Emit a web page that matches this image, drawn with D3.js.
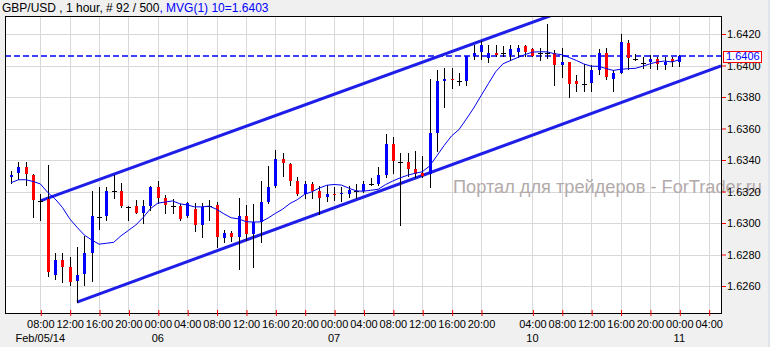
<!DOCTYPE html>
<html>
<head>
<meta charset="utf-8">
<script src="https://cdn.jsdelivr.net/npm/d3@7"></script>
<style>
  body { margin: 0; background: #f0f0f0; }
  svg { display: block; font-family: "Liberation Sans", Arial, sans-serif; }
</style>
</head>
<body>
<svg width="770" height="347"></svg>
<script>
// GBP/USD hourly bars, Feb 05 04:00 .. Feb 11 00:00 (92 bars)
const open = [
  1.63292, 1.63319, 1.63354, 1.63307, 1.63142, 1.63150, 1.62672, 1.62765, 1.62723, 1.62630,
  1.62672, 1.62811, 1.63040, 1.63044, 1.63201, 1.63201, 1.63103, 1.63108, 1.63065, 1.63112,
  1.63230, 1.63159, 1.63108, 1.63108, 1.63044, 1.63091, 1.62989, 1.63110, 1.63112, 1.62909,
  1.62935, 1.62909, 1.63044, 1.62930, 1.63006, 1.63133, 1.63230, 1.63404, 1.63375, 1.63265,
  1.63184, 1.63248, 1.63205, 1.63163, 1.63186, 1.63184, 1.63184, 1.63203, 1.63206, 1.63248,
  1.63248, 1.63307, 1.63502, 1.63385, 1.63387, 1.63345, 1.63319, 1.63311, 1.63573, 1.63900,
  1.63912, 1.63900, 1.63903, 1.64060, 1.64081, 1.64048, 1.64079, 1.64077, 1.64064, 1.64083,
  1.64123, 1.64103, 1.64079, 1.64078, 1.64081, 1.64006, 1.64023, 1.63903, 1.63883, 1.63886,
  1.63968, 1.64078, 1.63917, 1.63956, 1.64142, 1.64043, 1.64019, 1.64021, 1.64040, 1.64006,
  1.64040, 1.64023
];
const high = [
  1.63332, 1.63387, 1.63387, 1.63310, 1.63184, 1.63366, 1.62808, 1.62808, 1.62786, 1.62846,
  1.62917, 1.63205, 1.63230, 1.63230, 1.63307, 1.63252, 1.63108, 1.63146, 1.63146, 1.63232,
  1.63269, 1.63180, 1.63152, 1.63121, 1.63133, 1.63125, 1.63129, 1.63146, 1.63133, 1.62956,
  1.62951, 1.63159, 1.63112, 1.63121, 1.63265, 1.63362, 1.63464, 1.63446, 1.63379, 1.63294,
  1.63265, 1.63260, 1.63235, 1.63239, 1.63230, 1.63227, 1.63235, 1.63248, 1.63269, 1.63283,
  1.63357, 1.63565, 1.63548, 1.63443, 1.63443, 1.63459, 1.63425, 1.63912, 1.63971, 1.63984,
  1.63984, 1.63954, 1.64062, 1.64128, 1.64154, 1.64128, 1.64128, 1.64121, 1.64130, 1.64130,
  1.64130, 1.64108, 1.64112, 1.64262, 1.64098, 1.64110, 1.64025, 1.63938, 1.64008, 1.64004,
  1.64106, 1.64108, 1.63973, 1.64199, 1.64163, 1.64074, 1.64057, 1.64067, 1.64057, 1.64057,
  1.64057, 1.64064
];
const low = [
  1.63256, 1.63281, 1.63243, 1.63040, 1.63019, 1.62663, 1.62646, 1.62625, 1.62604, 1.62498,
  1.62604, 1.62630, 1.62964, 1.63019, 1.63159, 1.63103, 1.63019, 1.63062, 1.63002, 1.63083,
  1.63125, 1.63062, 1.63062, 1.63019, 1.63040, 1.62951, 1.62913, 1.63021, 1.62846, 1.62879,
  1.62884, 1.62706, 1.62892, 1.62723, 1.62879, 1.63129, 1.63227, 1.63298, 1.63243, 1.63180,
  1.63159, 1.63159, 1.63057, 1.63138, 1.63146, 1.63142, 1.63163, 1.63159, 1.63200, 1.63243,
  1.63243, 1.63294, 1.63319, 1.62985, 1.63298, 1.63290, 1.63294, 1.63227, 1.63459, 1.63738,
  1.63857, 1.63878, 1.63878, 1.64039, 1.64039, 1.64022, 1.64060, 1.64059, 1.64037, 1.64054,
  1.64062, 1.64058, 1.64038, 1.64049, 1.63876, 1.63927, 1.63797, 1.63835, 1.63838, 1.63835,
  1.63949, 1.63917, 1.63841, 1.63954, 1.63975, 1.64036, 1.63981, 1.63985, 1.63978, 1.63978,
  1.63998, 1.63998
];
const close = [
  1.63307, 1.63354, 1.63307, 1.63146, 1.63142, 1.62689, 1.62765, 1.62723, 1.62630, 1.62668,
  1.62808, 1.63044, 1.63040, 1.63205, 1.63201, 1.63108, 1.63103, 1.63065, 1.63108, 1.63230,
  1.63159, 1.63112, 1.63108, 1.63027, 1.63125, 1.62989, 1.63103, 1.63110, 1.62909, 1.62938,
  1.62909, 1.63044, 1.62930, 1.63006, 1.63133, 1.63227, 1.63404, 1.63379, 1.63269, 1.63184,
  1.63248, 1.63205, 1.63163, 1.63184, 1.63182, 1.63190, 1.63210, 1.63203, 1.63248, 1.63248,
  1.63307, 1.63502, 1.63392, 1.63385, 1.63345, 1.63316, 1.63303, 1.63570, 1.63903, 1.63912,
  1.63903, 1.63900, 1.64060, 1.64081, 1.64128, 1.64081, 1.64065, 1.64077, 1.64103, 1.64111,
  1.64086, 1.64060, 1.64079, 1.64078, 1.64006, 1.64023, 1.63886, 1.63886, 1.63883, 1.63970,
  1.64078, 1.63924, 1.63954, 1.64150, 1.64044, 1.64043, 1.64019, 1.64040, 1.64006, 1.64025,
  1.64023, 1.64060
];
// closes of the 9 bars before the window, needed for the 10-bar average
const prevClose = [1.63168, 1.63298, 1.63258, 1.63298, 1.63227, 1.63176, 1.63260, 1.63358, 1.63206];

const priceTicks = [1.626, 1.628, 1.630, 1.632, 1.634, 1.636, 1.638, 1.640, 1.642];
const timeTickBars = [4, 8, 12, 16, 20, 24, 28, 32, 36, 40, 44, 48, 52, 56, 60, 64, 71, 75, 79, 83, 87, 91, 95];
const timeTickLabels = ["08:00", "12:00", "16:00", "20:00", "00:00", "04:00", "08:00", "12:00", "16:00", "20:00",
  "00:00", "04:00", "08:00", "12:00", "16:00", "20:00", "04:00", "08:00", "12:00", "16:00", "20:00", "00:00", "04:00"];
const dateBars = [4, 20, 44, 71, 91];
const dateLabels = ["Feb/05/14", "06", "07", "10", "11"];
const lastPrice = 1.6406;
const maPeriod = 10;
// channel lines: [bar1, price1, bar2, price2], drawn as rays
const channelLines = [
  [4, 1.6314, 60, 1.64088],
  [9, 1.62498, 91, 1.639]
];

const svg = d3.select("svg");
const width = +svg.attr("width");
const height = +svg.attr("height");
const plotLeft = 5, plotRight = 721, plotTop = 16, plotBottom = 313;

const x = d3.scaleLinear().domain([4, 91]).range([40.3, 679.3]);
const y = d3.scaleLinear().domain([1.626, 1.642]).range([286, 34]);
const xEnd = x.invert(plotRight);

svg.append("rect").attr("width", width).attr("height", height).attr("fill", "#f0f0f0");
svg.append("rect").attr("x", 768).attr("y", 0).attr("width", 2).attr("height", height).attr("fill", "#dfe4ea");

svg.append("rect")
  .attr("x", plotLeft).attr("y", plotTop)
  .attr("width", plotRight - plotLeft).attr("height", plotBottom - plotTop)
  .attr("fill", "#fff");

svg.append("clipPath").attr("id", "plot")
  .append("rect")
  .attr("x", plotLeft).attr("y", plotTop)
  .attr("width", plotRight - plotLeft).attr("height", plotBottom - plotTop);

// grid
svg.append("g").selectAll("line")
  .data(priceTicks)
  .join("line")
  .attr("x1", plotLeft).attr("x2", plotRight)
  .attr("y1", d => Math.round(y(d)) + 0.5).attr("y2", d => Math.round(y(d)) + 0.5)
  .attr("stroke", "#d8d8d8");
svg.append("g").selectAll("line")
  .data(timeTickBars)
  .join("line")
  .attr("x1", d => Math.round(x(d)) + 0.5).attr("x2", d => Math.round(x(d)) + 0.5)
  .attr("y1", plotTop).attr("y2", plotBottom)
  .attr("stroke", "#d8d8d8");

// watermark
svg.append("text")
  .attr("x", 453).attr("y", 193)
  .attr("font-size", 18)
  .attr("textLength", 309)
  .attr("lengthAdjust", "spacingAndGlyphs")
  .attr("fill", "#b3aaaa")
  .text("Портал для трейдеров - ForTrader.ru");

const plot = svg.append("g").attr("clip-path", "url(#plot)");

// last price dashed line
plot.append("line")
  .attr("x1", plotLeft).attr("x2", plotRight)
  .attr("y1", y(lastPrice)).attr("y2", y(lastPrice))
  .attr("stroke", "#0000ff")
  .attr("stroke-width", 1.5)
  .attr("stroke-dasharray", "6,3");

// channel
plot.selectAll(".channel")
  .data(channelLines)
  .join("line")
  .attr("class", "channel")
  .attr("x1", d => x(d[0]))
  .attr("y1", d => y(d[1]))
  .attr("x2", x(xEnd))
  .attr("y2", d => y(d[1] + (d[3] - d[1]) / (d[2] - d[0]) * (xEnd - d[0])))
  .attr("stroke", "#1e1ee8")
  .attr("stroke-width", 3);

// candles
const bars = d3.range(close.length);
const cx = i => Math.round(x(i));

plot.append("g").selectAll("line")
  .data(bars)
  .join("line")
  .attr("x1", i => cx(i) + 0.5).attr("x2", i => cx(i) + 0.5)
  .attr("y1", i => Math.round(y(high[i]))).attr("y2", i => Math.round(y(low[i])) + 1)
  .attr("stroke", "#000");

plot.append("g").selectAll("rect")
  .data(bars.filter(i => open[i] !== close[i]))
  .join("rect")
  .attr("x", i => cx(i) - 1)
  .attr("width", 3)
  .attr("y", i => Math.round(y(Math.max(open[i], close[i]))))
  .attr("height", i => Math.max(1, Math.round(Math.abs(y(open[i]) - y(close[i])))))
  .attr("fill", i => close[i] > open[i] ? "#0000ff" : "#ff0000");

plot.append("g").selectAll("line")
  .data(bars.filter(i => open[i] === close[i]))
  .join("line")
  .attr("x1", i => cx(i) - 2).attr("x2", i => cx(i) + 3)
  .attr("y1", i => Math.round(y(close[i])) + 0.5).attr("y2", i => Math.round(y(close[i])) + 0.5)
  .attr("stroke", "#000");

// moving average
const allClose = prevClose.concat(close);
const ma = bars.map(i => d3.mean(allClose.slice(i, i + maPeriod)));
plot.append("path")
  .datum(ma)
  .attr("fill", "none")
  .attr("stroke", "#0000ee")
  .attr("stroke-width", 1)
  .attr("d", d3.line().x((d, i) => x(i)).y(d => y(d)));

// frame
svg.append("rect")
  .attr("x", plotLeft + 0.5).attr("y", plotTop + 0.5)
  .attr("width", plotRight - plotLeft).attr("height", plotBottom - plotTop)
  .attr("fill", "none")
  .attr("stroke", "#000");

// price axis
const yAxis = svg.append("g")
  .attr("transform", `translate(${plotRight + 1},0)`)
  .call(d3.axisRight(y).tickValues(priceTicks).tickFormat(d3.format(".4f")).tickSize(4).tickPadding(1));
yAxis.select(".domain").remove();
yAxis.selectAll("line").attr("stroke", "#ff0000");
yAxis.selectAll("text").attr("font-size", 11).attr("font-family", "Liberation Sans, Arial, sans-serif").attr("fill", "#000");

// last price label
const lastY = y(lastPrice);
svg.append("rect")
  .attr("x", 723.5).attr("y", Math.round(lastY) - 4.5)
  .attr("width", 38).attr("height", 11)
  .attr("fill", "#fff")
  .attr("stroke", "#ff0000");
svg.append("text")
  .attr("x", 726).attr("y", lastY).attr("dy", "0.35em")
  .attr("font-size", 11)
  .attr("fill", "#0000ff")
  .text(d3.format(".4f")(lastPrice));

// time axis
const xAxis = svg.append("g")
  .attr("transform", `translate(0,${plotBottom - 3})`)
  .call(d3.axisBottom(x).tickValues(timeTickBars).tickFormat((d, i) => timeTickLabels[i]).tickSize(6).tickPadding(4));
xAxis.select(".domain").remove();
xAxis.selectAll("line").attr("stroke", "#ff0000").attr("transform", "translate(0.5,0)");
xAxis.selectAll("text").attr("font-size", 11).attr("font-family", "Liberation Sans, Arial, sans-serif").attr("fill", "#000");

svg.append("g").selectAll("text")
  .data(dateBars)
  .join("text")
  .attr("x", d => x(d))
  .attr("y", 342)
  .attr("text-anchor", "middle")
  .attr("font-size", 11)
  .attr("fill", "#000")
  .text((d, i) => dateLabels[i]);

// header
const header = svg.append("text")
  .attr("x", 2).attr("y", 12)
  .attr("font-size", 12)
  .attr("fill", "#000");
header.append("tspan").text("GBP/USD , 1 hour, # 92 / 500");
header.append("tspan").attr("fill", "#0000ff").text(", MVG(1) 10=1.6403");
</script>
</body>
</html>
